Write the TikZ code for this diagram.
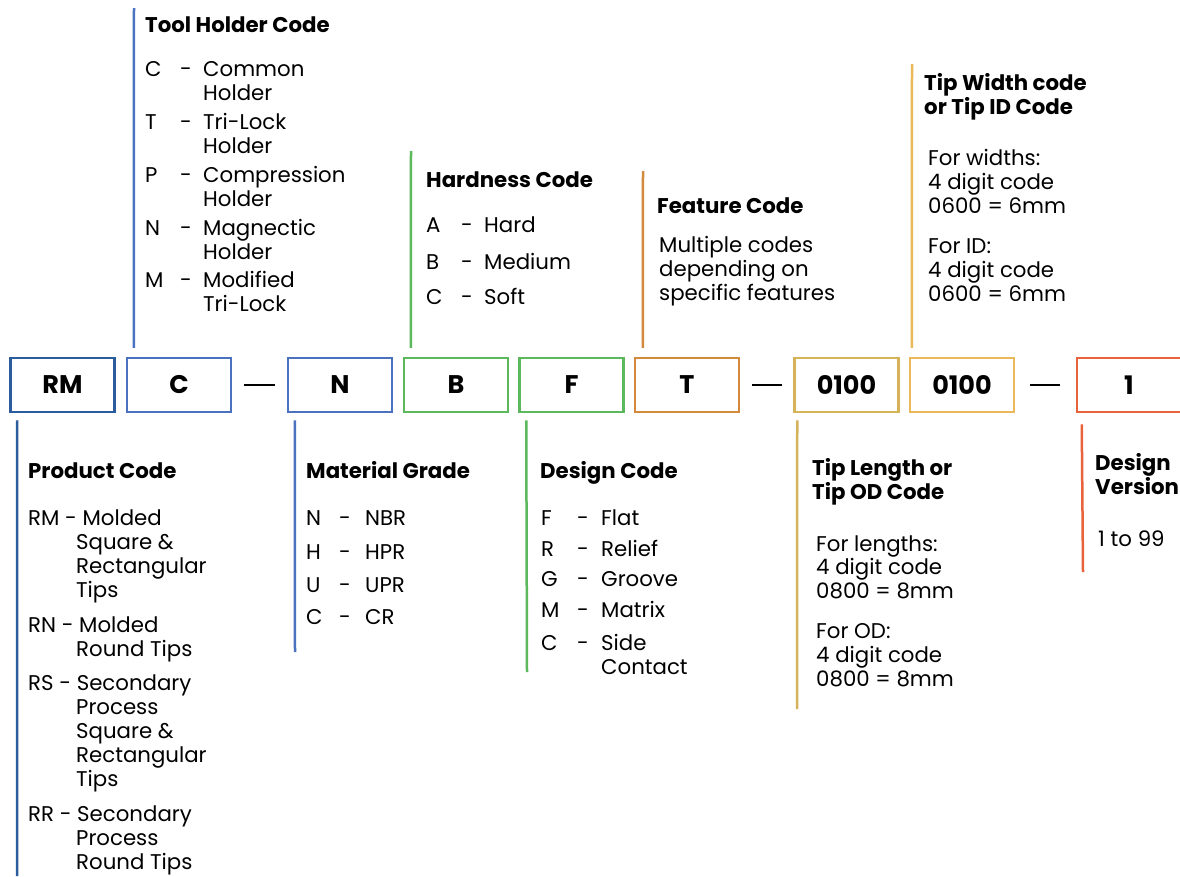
\documentclass[tikz,border=0pt]{standalone}
\usepackage{fontspec}
\setmainfont{Poppins}
\usetikzlibrary{positioning}

\definecolor{dkblue}{HTML}{2B5C9E}
\definecolor{ltblue}{HTML}{4A72C0}
\definecolor{grn}{HTML}{5CB85C}
\definecolor{org}{HTML}{D48A3C}
\definecolor{goldA}{HTML}{D6B35A}
\definecolor{goldB}{HTML}{EBB95A}
\definecolor{rust}{HTML}{E8623C}

\tikzset{
  codebox/.style={draw=#1,line width=2.5pt,minimum width=104pt,minimum height=54pt,
    font=\bfseries\fontsize{25.5}{28}\selectfont,inner sep=0pt},
  lead/.style={draw=#1,line width=2.5pt},
  sep/.style={draw=black,line width=2.8pt},
  head/.style={anchor=base west,inner sep=0pt,font=\bfseries\fontsize{21.3}{24}\selectfont},
  body/.style={anchor=base west,inner sep=0pt,font=\fontsize{21.3}{24}\selectfont},
}

\begin{document}
\begin{tikzpicture}[x=1pt,y=-1pt]
    \useasboundingbox[fill=white] (0,0) rectangle (1180,876);

    % the code boxes
    \node[codebox=dkblue] (rm) at (62.5,385) {RM};
    \node[codebox=ltblue] (hold) at (179,385) {C};
    \node[codebox=ltblue] (grade) at (340,385) {N};
    \node[codebox=grn] (hard) at (456,385) {B};
    \node[codebox=grn] (design) at (571.5,385) {F};
    \node[codebox=org] (feat) at (687,385) {T};
    \node[codebox=goldA] (len) at (846.5,385) {0100};
    \node[codebox=goldB] (wid) at (962,385) {0100};
    \node[codebox=rust] (ver) at (1129,385) {1};

    % the dashes between groups
    \draw[sep] ([xshift=12pt]hold.east) -- ([xshift=-12pt]grade.west);
    \draw[sep] ([xshift=12pt]feat.east) -- ([xshift=-11pt]len.west);
    \draw[sep] ([xshift=15pt]wid.east) -- ([xshift=-16pt]ver.west);

    % leader lines up
    \coordinate (holdtop) at (134,8);
    \coordinate (hardtop) at (411,151);
    \coordinate (feattop) at (643,171);
    \coordinate (widtop) at (912,64);
    \draw[lead=ltblue] ([xshift=8pt,yshift=9pt]hold.north west) -- (holdtop);
    \draw[lead=grn] ([xshift=8pt,yshift=9pt]hard.north west) -- (hardtop);
    \draw[lead=org] ([xshift=9pt,yshift=9pt]feat.north west) -- (feattop);
    \draw[lead=goldB] ([xshift=3pt,yshift=9pt]wid.north west) -- (widtop);

    % leader lines down
    \coordinate (rmend) at (17,876);
    \coordinate (gradeend) at (295,652);
    \coordinate (designend) at (527,672);
    \coordinate (lenend) at (797,709);
    \coordinate (verend) at (1083,572);
    \draw[lead=dkblue] ([xshift=8pt,yshift=-7pt]rm.south west) -- (rmend);
    \draw[lead=ltblue] ([xshift=8pt,yshift=-7pt]grade.south west) -- (gradeend);
    \draw[lead=grn] ([xshift=8pt,yshift=-7pt]design.south west) -- (designend);
    \draw[lead=goldA] ([xshift=4pt,yshift=-7pt]len.south west) -- (lenend);
    \draw[lead=rust] ([xshift=6pt,yshift=-11pt]ver.south west) -- (verend);

    % tool holder code
    \node[head] (th) at (145,32) {Tool Holder Code};
    \foreach \yy/\ll/\tx in {76/C/Common,129/T/Tri-Lock,182/P/Compression,235/N/Magnectic,287/M/Modified}{
        \node[body] (thl\yy) at (145,\yy) {\ll};
        \node[body] (thd\yy) at (180,\yy) {-};
        \node[body] (tht\yy) at (203,\yy) {\tx};
    }
    \foreach \yy/\tx in {100/Holder,153/Holder,206/Holder,259/Holder,311/Tri-Lock}
        \node[body] (thc\yy) at (203,\yy) {\tx};

    % hardness code
    \node[head] (hc) at (426,187) {Hardness Code};
    \foreach \yy/\ll/\tx in {232/A/Hard,269/B/Medium,304/C/Soft}{
        \node[body] (hcl\yy) at (426,\yy) {\ll};
        \node[body] (hcd\yy) at (461,\yy) {-};
        \node[body] (hct\yy) at (484,\yy) {\tx};
    }

    % feature code
    \node[head] (fc) at (657,213) {Feature Code};
    \foreach \yy/\tx in {252/Multiple codes,276/depending on,300/specific features}
        \node[body] (fct\yy) at (659,\yy) {\tx};

    % tip width code
    \node[head] (tw) at (924,90) {Tip Width code};
    \node[head] (tw2) at (924,114) {or Tip ID Code};
    \foreach \yy/\tx in {165/For widths:,189/4 digit code,213/0600 = 6mm,253/For ID:,277/4 digit code,301/0600 = 6mm}
        \node[body] (twt\yy) at (928,\yy) {\tx};

    % product code
    \node[head] (pc) at (28,478) {Product Code};
    \foreach \yy/\tx in {525/RM - Molded,632/RN - Molded,690/RS - Secondary,821/RR - Secondary}
        \node[body] (pcl\yy) at (28,\yy) {\tx};
    \foreach \yy/\tx in {549/Square \&,573/Rectangular,597/Tips,656/Round Tips,
        714/Process,738/Square \&,762/Rectangular,786/Tips,845/Process,869/Round Tips}
        \node[body] (pct\yy) at (76,\yy) {\tx};

    % material grade
    \node[head] (mg) at (306,478) {Material Grade};
    \foreach \yy/\ll/\tx in {525/N/NBR,559/H/HPR,592/U/UPR,624/C/CR}{
        \node[body] (mgl\yy) at (306,\yy) {\ll};
        \node[body] (mgd\yy) at (339,\yy) {-};
        \node[body] (mgt\yy) at (365,\yy) {\tx};
    }

    % design code
    \node[head] (dc) at (540,478) {Design Code};
    \foreach \yy/\ll/\tx in {525/F/Flat,556/R/Relief,586/G/Groove,617/M/Matrix,650/C/Side}{
        \node[body] (dcl\yy) at (541,\yy) {\ll};
        \node[body] (dcd\yy) at (577,\yy) {-};
        \node[body] (dct\yy) at (601,\yy) {\tx};
    }
    \node[body] (dcc) at (601,674) {Contact};

    % tip length code
    \node[head] (tl) at (812,475) {Tip Length or};
    \node[head] (tl2) at (812,499) {Tip OD Code};
    \foreach \yy/\tx in {551/For lengths:,574/4 digit code,598/0800 = 8mm,638/For OD:,662/4 digit code,686/0800 = 8mm}
        \node[body] (tlt\yy) at (816,\yy) {\tx};

    % design version
    \node[head] (dv) at (1095,470) {Design};
    \node[head] (dv2) at (1095,494) {Version};
    \node[body] (dvt) at (1098,546) {1 to 99};
\end{tikzpicture}
\end{document}
